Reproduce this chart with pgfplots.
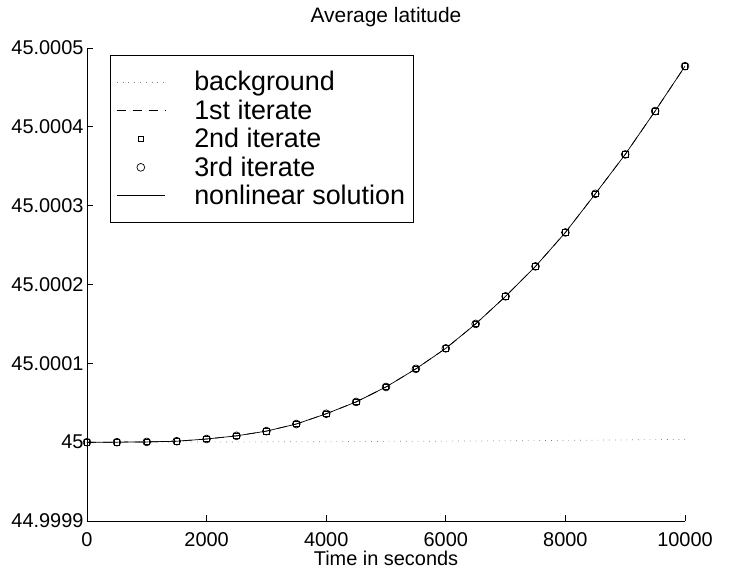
\documentclass[border=0pt]{standalone}
\usepackage{fontspec}
\setmainfont{Liberation Sans}
\usepackage{pgfplots}
\pgfplotsset{compat=1.18}

\begin{document}
\begin{tikzpicture}
\begin{axis}[
    scale only axis,
    width=598bp, height=473bp,
    xmin=0, xmax=10000,
    ymin=-1, ymax=5,
    xtick={0,2000,...,10000},
    scaled x ticks=false,
    ytick={-1,0,...,5},
    yticklabels={44.9999,45,45.0001,45.0002,45.0003,45.0004,45.0005},
    axis x line*=bottom,
    axis y line*=left,
    tick align=inside,
    major tick length=6bp,
    tick style={black, line width=0.7bp},
    axis line style={line width=0.7bp},
    /pgf/number format/assume math mode=true,
    /pgf/number format/1000 sep={},
    tick label style={font=\fontsize{20}{22}\selectfont},
    xticklabel style={yshift=-8bp},
    xlabel={Time in seconds},
    xlabel style={font=\fontsize{20}{22}\selectfont, yshift=2bp},
    title={Average latitude},
    title style={font=\fontsize{21}{23}\selectfont, yshift=12bp},
    legend cell align={left},
    legend style={
        at={(0.0385,0.985)}, anchor=north west,
        font=\fontsize{27}{29}\selectfont,
        draw=black, line width=0.7bp,
        inner xsep=6bp, inner ysep=14bp,
        row sep=3.5bp,
        /tikz/every odd column/.append style={column sep=27bp},
    },
    legend image code/.code={
        \draw[mark repeat=2,mark phase=2] plot coordinates {(0cm,0cm) (0.85cm,0cm) (1.7cm,0cm)};
    },
]

% background
\addplot[gray, line width=0.7bp, dash pattern=on 0.8bp off 5bp]
    coordinates {(0,0)(2000,0.002)(4000,0.006)(6000,0.013)(8000,0.022)(10000,0.035)};
\addlegendentry{background}

% 1st iterate
\addplot[black, line width=0.7bp, dash pattern=on 9bp off 7bp]
    coordinates {(0,0)(500,0)(1000,0.003)(1500,0.012)(2000,0.04)(2500,0.08)(3000,0.14)
                 (3500,0.23)(4000,0.36)(4500,0.51)(5000,0.70)(5500,0.93)(6000,1.19)
                 (6500,1.50)(7000,1.85)(7500,2.23)(8000,2.66)(8500,3.15)(9000,3.65)
                 (9500,4.20)(10000,4.77)};
\addlegendentry{1st iterate}

% 2nd iterate
\addplot[black, only marks, mark=square, mark size=2.8bp, mark options={line width=0.7bp}]
    coordinates {(0,0)(500,0)(1000,0.003)(1500,0.012)(2000,0.04)(2500,0.08)(3000,0.14)
                 (3500,0.23)(4000,0.36)(4500,0.51)(5000,0.70)(5500,0.93)(6000,1.19)
                 (6500,1.50)(7000,1.85)(7500,2.23)(8000,2.66)(8500,3.15)(9000,3.65)
                 (9500,4.20)(10000,4.77)};
\addlegendentry{2nd iterate}

% 3rd iterate
\addplot[black, only marks, mark=o, mark size=3.9bp, mark options={line width=0.7bp}]
    coordinates {(0,0)(500,0)(1000,0.003)(1500,0.012)(2000,0.04)(2500,0.08)(3000,0.14)
                 (3500,0.23)(4000,0.36)(4500,0.51)(5000,0.70)(5500,0.93)(6000,1.19)
                 (6500,1.50)(7000,1.85)(7500,2.23)(8000,2.66)(8500,3.15)(9000,3.65)
                 (9500,4.20)(10000,4.77)};
\addlegendentry{3rd iterate}

% nonlinear solution
\addplot[black, line width=0.7bp]
    coordinates {(0,0)(500,0)(1000,0.003)(1500,0.012)(2000,0.04)(2500,0.08)(3000,0.14)
                 (3500,0.23)(4000,0.36)(4500,0.51)(5000,0.70)(5500,0.93)(6000,1.19)
                 (6500,1.50)(7000,1.85)(7500,2.23)(8000,2.66)(8500,3.15)(9000,3.65)
                 (9500,4.20)(10000,4.77)};
\addlegendentry{nonlinear solution}

\coordinate (SW) at (rel axis cs:0,0);
\coordinate (NE) at (rel axis cs:1,1);
\end{axis}
\pgfresetboundingbox
\path ([xshift=-87bp,yshift=-57bp]SW) rectangle ([xshift=48bp,yshift=48bp]NE);
\end{tikzpicture}
\end{document}
